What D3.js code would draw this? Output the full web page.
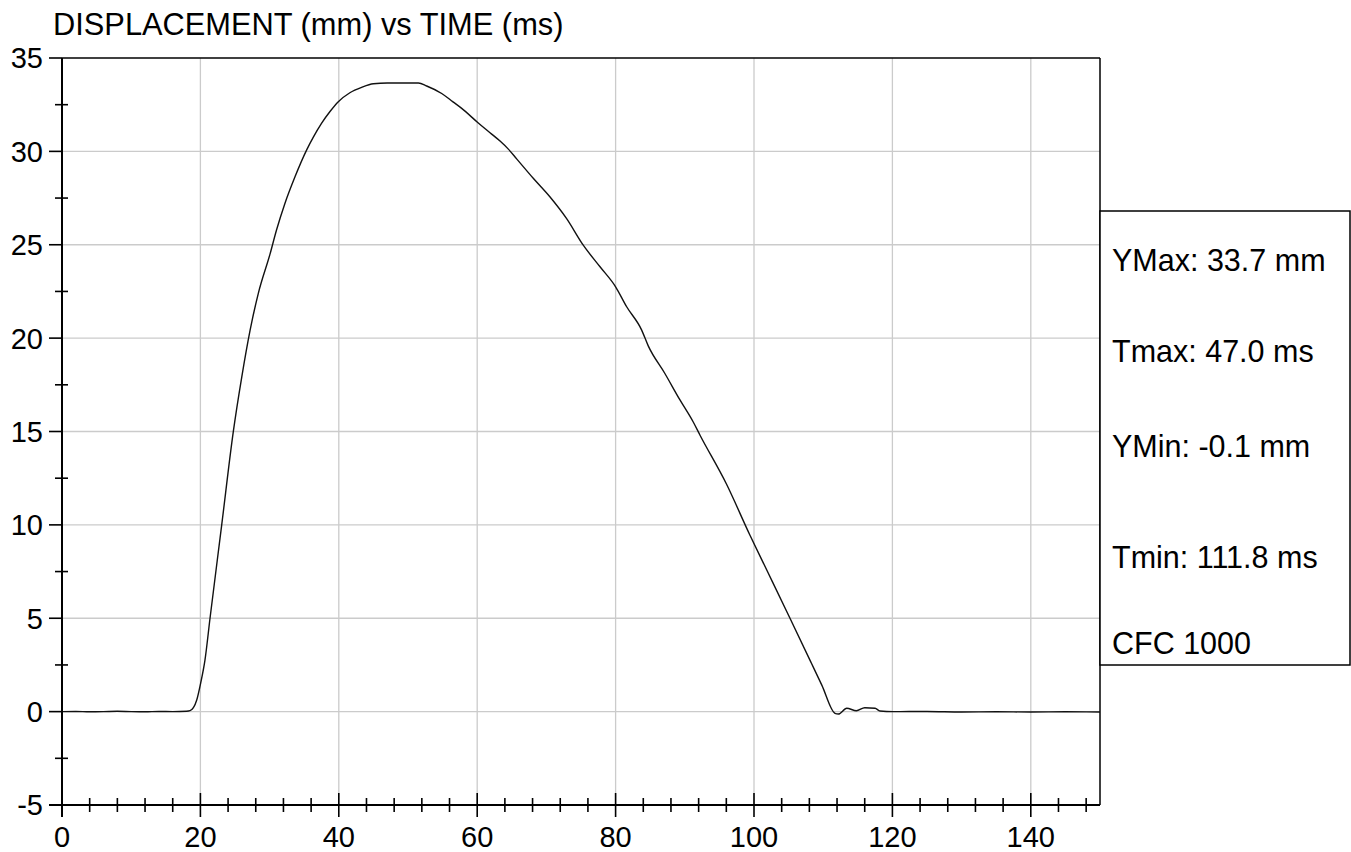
<!DOCTYPE html>
<html>
<head>
<meta charset="utf-8">
<script src="https://cdn.jsdelivr.net/npm/d3@7"></script>
<style>
  html, body { margin: 0; padding: 0; background: #fff; }
  svg { display: block; font-family: "Liberation Sans", Arial, sans-serif; }
</style>
</head>
<body>
<svg id="chart" width="1351" height="852"></svg>
<script>
// ---- data ----
const chartTitle = "DISPLACEMENT (mm) vs TIME (ms)";
const timeMs = [0, 2, 4, 6, 8, 10, 12, 14, 16, 18, 18.5, 19.47, 20.04, 20.66, 21.39, 23.08, 24.75, 25.97, 27.17, 28.37,
  30.06, 31.0, 32.2, 33.67, 35.36, 36.3, 37.5, 38.7, 39.93, 41.6, 43.3, 45.0, 47.0, 51.5, 52.7, 54.87, 56.5, 57.76,
  60.07, 61.85, 63.3, 64.5, 65.7, 68.1, 70.5, 72.9, 75.3, 77.75, 80.0, 81.6, 83.77, 84.7, 87.1, 89.3, 91.2, 92.2,
  96.0, 99.4, 102.07, 105.2, 108.3, 109.8, 111.7, 112.2, 113.4, 114.8, 116.0, 117.5, 118.2, 120.1, 125, 130, 135, 140, 145, 150];
const dispMm = [0, 0.01, -0.01, 0.0, 0.02, 0.0, -0.01, 0.01, 0.0, 0.02, 0.05, 0.62, 1.53, 2.76, 5.0, 10.0, 14.98, 17.9, 20.4, 22.4,
  24.5, 25.79, 27.2, 28.64, 30.08, 30.75, 31.5, 32.12, 32.66, 33.14, 33.43, 33.62, 33.66, 33.66, 33.5, 33.1, 32.65, 32.3,
  31.55, 31.0, 30.55, 30.12, 29.6, 28.56, 27.57, 26.41, 24.99, 23.82, 22.75, 21.68, 20.43, 19.6, 18.12, 16.69, 15.52, 14.8,
  12.2, 9.46, 7.41, 5.0, 2.59, 1.42, -0.09, -0.13, 0.18, 0.05, 0.21, 0.18, 0.03, 0.0, 0.01, -0.02, -0.01, -0.02, -0.01, -0.02];
const xMajorTicks = [0, 20, 40, 60, 80, 100, 120, 140];
const xMinorTicks = [4, 8, 12, 16, 24, 28, 32, 36, 44, 48, 52, 56, 64, 68, 72, 76, 84, 88, 92, 96, 104, 108, 112, 116, 124, 128, 132, 136, 144, 148];
const yMajorTicks = [-5, 0, 5, 10, 15, 20, 25, 30, 35];
const yMinorTicks = [-2.5, 2.5, 7.5, 12.5, 17.5, 22.5, 27.5, 32.5];
const statLabels = ["YMax: 33.7 mm", "Tmax: 47.0 ms", "YMin: -0.1 mm", "Tmin: 111.8 ms", "CFC 1000"];

// ---- layout ----
const svg = d3.select("#chart");
const x = d3.scaleLinear().domain([0, 150]).range([62, 1100]);
const y = d3.scaleLinear().domain([-5, 35]).range([805, 58]);
const axisColor = "#000";
const gridColor = "#cbcbcb";

// grid
svg.append("g").selectAll("line").data(xMajorTicks.filter(d => d > 0)).join("line")
  .attr("x1", d => x(d)).attr("x2", d => x(d)).attr("y1", y(35)).attr("y2", y(-5))
  .attr("stroke", gridColor).attr("stroke-width", 1.3);
svg.append("g").selectAll("line").data(yMajorTicks.filter(d => d > -5 && d < 35)).join("line")
  .attr("x1", x(0)).attr("x2", x(150)).attr("y1", d => y(d)).attr("y2", d => y(d))
  .attr("stroke", gridColor).attr("stroke-width", 1.3);

// frame: top and right
svg.append("line").attr("x1", x(0)).attr("x2", x(150)).attr("y1", y(35)).attr("y2", y(35))
  .attr("stroke", axisColor).attr("stroke-width", 1.5);
svg.append("line").attr("x1", x(150)).attr("x2", x(150)).attr("y1", y(35)).attr("y2", y(-5))
  .attr("stroke", axisColor).attr("stroke-width", 1.5);

// curve
const line = d3.line().x((d, i) => x(timeMs[i])).y(d => y(d)).curve(d3.curveMonotoneX);
svg.append("path").datum(dispMm).attr("d", line)
  .attr("fill", "none").attr("stroke", "#111").attr("stroke-width", 1.4).attr("stroke-linejoin", "round");

// axes lines
svg.append("line").attr("x1", x(0)).attr("x2", x(0)).attr("y1", y(35)).attr("y2", y(-5) + 12)
  .attr("stroke", axisColor).attr("stroke-width", 2);
svg.append("line").attr("x1", x(0) - 13).attr("x2", x(150)).attr("y1", y(-5)).attr("y2", y(-5))
  .attr("stroke", axisColor).attr("stroke-width", 2);

// x ticks
svg.append("g").selectAll("line").data(xMajorTicks).join("line")
  .attr("x1", d => x(d)).attr("x2", d => x(d)).attr("y1", y(-5) - 12).attr("y2", y(-5) + 12)
  .attr("stroke", axisColor).attr("stroke-width", 1.6);
svg.append("g").selectAll("line").data(xMinorTicks).join("line")
  .attr("x1", d => x(d)).attr("x2", d => x(d)).attr("y1", y(-5) - 7).attr("y2", y(-5) + 7)
  .attr("stroke", axisColor).attr("stroke-width", 1.6);
// y ticks
svg.append("g").selectAll("line").data(yMajorTicks).join("line")
  .attr("x1", x(0) - 13).attr("x2", x(0)).attr("y1", d => y(d)).attr("y2", d => y(d))
  .attr("stroke", axisColor).attr("stroke-width", 1.6);
svg.append("g").selectAll("line").data(yMinorTicks).join("line")
  .attr("x1", x(0) - 7).attr("x2", x(0) + 6).attr("y1", d => y(d)).attr("y2", d => y(d))
  .attr("stroke", axisColor).attr("stroke-width", 1.6);

// tick labels
svg.append("g").selectAll("text").data(xMajorTicks).join("text")
  .attr("x", d => x(d)).attr("y", 847).attr("text-anchor", "middle")
  .attr("font-size", 29).attr("fill", "#000").text(d => d);
svg.append("g").selectAll("text").data(yMajorTicks).join("text")
  .attr("x", 43).attr("y", d => y(d)).attr("dy", "0.36em").attr("text-anchor", "end")
  .attr("font-size", 29).attr("fill", "#000").text(d => d);

// title
svg.append("text").attr("x", 53).attr("y", 35).attr("font-size", 30.8).attr("fill", "#000").text(chartTitle);

// stats box
svg.append("rect").attr("x", x(150)).attr("y", 211).attr("width", 1350 - x(150)).attr("height", 454)
  .attr("fill", "#fff").attr("stroke", axisColor).attr("stroke-width", 1.5);
const statBaselines = [271, 362, 457, 568, 654];
svg.append("g").selectAll("text").data(statLabels).join("text")
  .attr("x", 1112).attr("y", (d, i) => statBaselines[i])
  .attr("font-size", 30.5).attr("fill", "#000").text(d => d);
</script>
</body>
</html>
